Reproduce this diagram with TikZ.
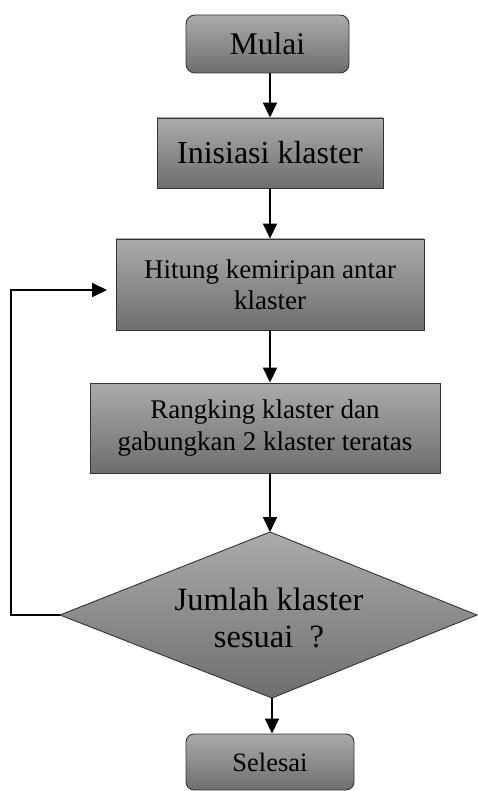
\documentclass[tikz,border=0pt]{standalone}
\usepackage{fontspec}
\setmainfont{Liberation Serif}
\usetikzlibrary{arrows.meta}
\tikzset{
  box/.style={draw=black!80, line width=0.9pt, top color=black!33, bottom color=black!57, inner sep=0pt, align=center, text=black},
  conn/.style={line width=1.8pt, -{Triangle[width=14pt,length=15pt]}},
}
\begin{document}
\begin{tikzpicture}[x=1pt,y=-1pt]
\useasboundingbox (0,0) rectangle (478,791);
\node[box, rounded corners=9pt, minimum width=163pt, minimum height=58pt, font=\fontsize{31.5}{35}\selectfont] (mul) at (267.5,44) {Mulai};
\node[box, minimum width=226pt, minimum height=70pt, font=\fontsize{32}{36}\selectfont] (ini) at (270,153) {Inisiasi klaster};
\node[box, minimum width=308pt, minimum height=91pt, font=\fontsize{27}{31}\selectfont] (hit) at (270,284.5) {Hitung kemiripan antar\\klaster};
\node[box, minimum width=350pt, minimum height=90pt, font=\fontsize{27}{32}\selectfont] (rank) at (265,428) {Rangking klaster dan\\gabungkan 2 klaster teratas};
\coordinate (dt) at (270,532);
\coordinate (dl) at (60,615);
\coordinate (dr) at (477,615);
\coordinate (db) at (272,698);
\path[draw=black!80, line width=0.9pt, top color=black!33, bottom color=black!57] (dt) -- (dr) -- (db) -- (dl) -- cycle;
\node[align=center, inner sep=0pt, text=black, font=\fontsize{32.5}{37}\selectfont] (dec) at (269,618) {Jumlah klaster\\sesuai\ \ ?};
\node[box, rounded corners=8pt, minimum width=168pt, minimum height=56pt, font=\fontsize{26.5}{30}\selectfont] (sel) at (270,762) {Selesai};
\coordinate (loopend) at (107,290);
\draw[conn] (mul.south -| 270,0) -- (ini.north);
\draw[conn] (ini.south) -- (hit.north);
\draw[conn] (hit.south) -- (rank.north -| hit.south);
\draw[conn] (rank.south -| dt) -- (dt);
\draw[conn] (db) -- (sel.north -| db);
\draw[conn] (dl) -- (11,615) |- (loopend);
\end{tikzpicture}
\end{document}
